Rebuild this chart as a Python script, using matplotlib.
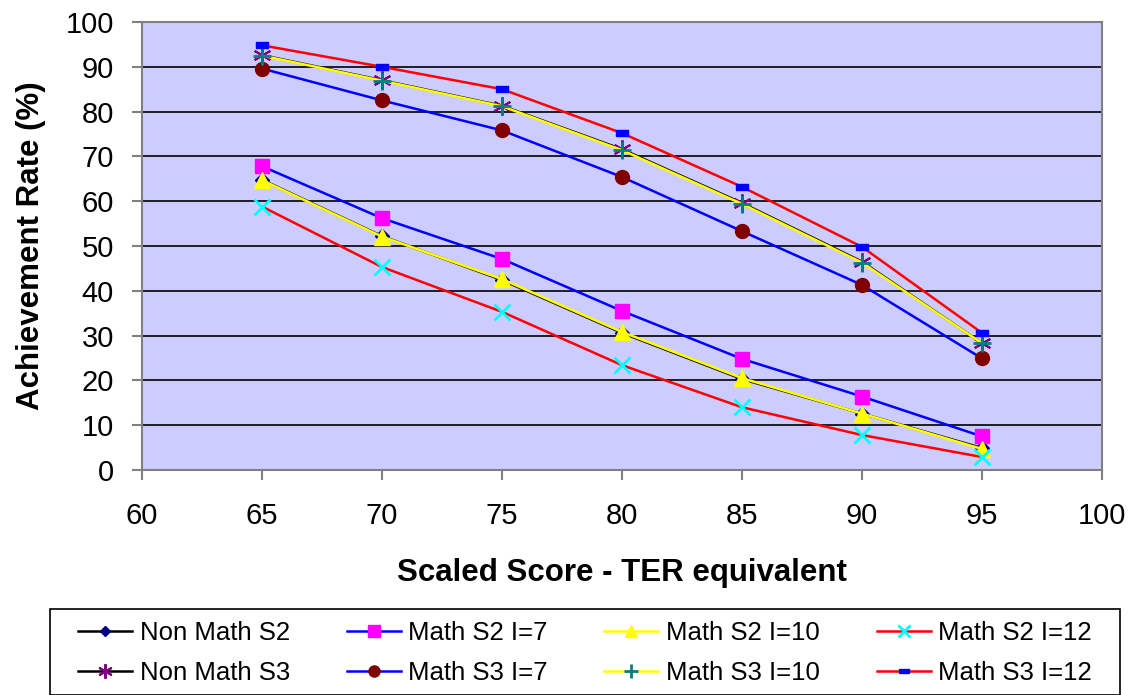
import matplotlib
matplotlib.use("Agg")
import matplotlib.pyplot as plt
from matplotlib.patches import Rectangle

plt.rcParams['font.family'] = ['Liberation Sans', 'DejaVu Sans']

x = [65, 70, 75, 80, 85, 90, 95]
non_math_s2 = [64.8, 52.2, 42.4, 30.6, 20.3, 12.6, 4.9]
math_s2_i7 = [67.8, 56.2, 47.1, 35.5, 24.8, 16.4, 7.5]
math_s2_i10 = [64.7, 52.1, 42.6, 30.8, 20.5, 12.6, 4.7]
math_s2_i12 = [58.8, 45.3, 35.3, 23.4, 14.0, 7.8, 2.9]
non_math_s3 = [92.6, 87.0, 81.3, 71.6, 59.6, 46.5, 28.3]
math_s3_i7 = [89.6, 82.5, 75.8, 65.4, 53.3, 41.3, 24.9]
math_s3_i10 = [92.5, 86.9, 81.2, 71.4, 59.4, 46.3, 28.3]
math_s3_i12 = [94.8, 90.0, 85.0, 75.2, 63.2, 49.8, 30.6]

xticks = [60, 65, 70, 75, 80, 85, 90, 95, 100]
yticks = [0, 10, 20, 30, 40, 50, 60, 70, 80, 90, 100]

W, H = 1141, 695
fig = plt.figure(figsize=(W/100, H/100), dpi=100)
ax = fig.add_axes([142/W, 1-470/H, (1102-142)/W, (470-22)/H])
ax.set_facecolor('#CCCCFF')

rect = [(-1.6, -0.7), (1.6, -0.7), (1.6, 0.7), (-1.6, 0.7), (-1.6, -0.7)]

series = [
    ("Non Math S2", non_math_s2, 'black', 'D', '#000080', 7, 1),
    ("Math S2 I=7", math_s2_i7, 'blue', 's', '#FF00FF', 10, 1),
    ("Math S2 I=10", math_s2_i10, 'yellow', '^', 'yellow', 11, 1),
    ("Math S2 I=12", math_s2_i12, 'red', 'x', 'cyan', 11, 2),
    ("Non Math S3", non_math_s3, 'black', (6, 2, 0), '#800080', 13, 1.5),
    ("Math S3 I=7", math_s3_i7, 'blue', 'o', '#800000', 10, 1),
    ("Math S3 I=10", math_s3_i10, 'yellow', '+', '#008080', 13, 2),
    ("Math S3 I=12", math_s3_i12, 'red', rect, 'blue', 9, 1),
]

handles = {}
for name, ys, lc, mk, mc, ms, mew in series:
    h, = ax.plot(x, ys, color=lc, lw=1.8, marker=mk, markersize=ms,
                 markerfacecolor=mc, markeredgecolor=mc, markeredgewidth=mew,
                 label=name, zorder=3)
    handles[name] = h

ax.set_xlim(60, 100)
ax.set_ylim(0, 100)
ax.set_xticks(xticks)
ax.set_yticks(yticks)
ax.yaxis.grid(True, color='black', lw=1.2)
ax.set_axisbelow(True)
for s in ax.spines.values():
    s.set_color('#808080')
    s.set_linewidth(1.5)
ax.tick_params(axis='both', labelsize=21, length=7.2, width=1.5, color='#808080')
ax.tick_params(axis='x', pad=16)
ax.tick_params(axis='y', pad=13)
ax.set_xlabel("Scaled Score - TER equivalent", fontsize=22.5, fontweight='bold', labelpad=20)
ax.set_ylabel("Achievement Rate (%)", fontsize=22.5, fontweight='bold', labelpad=14)

# legend frame
fig.patches.append(Rectangle((50/W, 0), (1120-50)/W, 1-609/H, transform=fig.transFigure,
                             facecolor='white', edgecolor='black', lw=1.2, zorder=0))

order = ["Non Math S2", "Non Math S3", "Math S2 I=7", "Math S3 I=7",
         "Math S2 I=10", "Math S3 I=10", "Math S2 I=12", "Math S3 I=12"]
leg = fig.legend([handles[n] for n in order], order, ncol=4,
                 loc='upper left', bbox_to_anchor=(78/W, 1-622/H, (1092-78)/W, 0.001),
                 mode='expand', fontsize=18.5, frameon=False, borderpad=0, borderaxespad=0,
                 handlelength=2.1, labelspacing=0.62, handletextpad=0.3, markerscale=0.8)

fig.savefig("out.png", dpi=100, facecolor='white')
